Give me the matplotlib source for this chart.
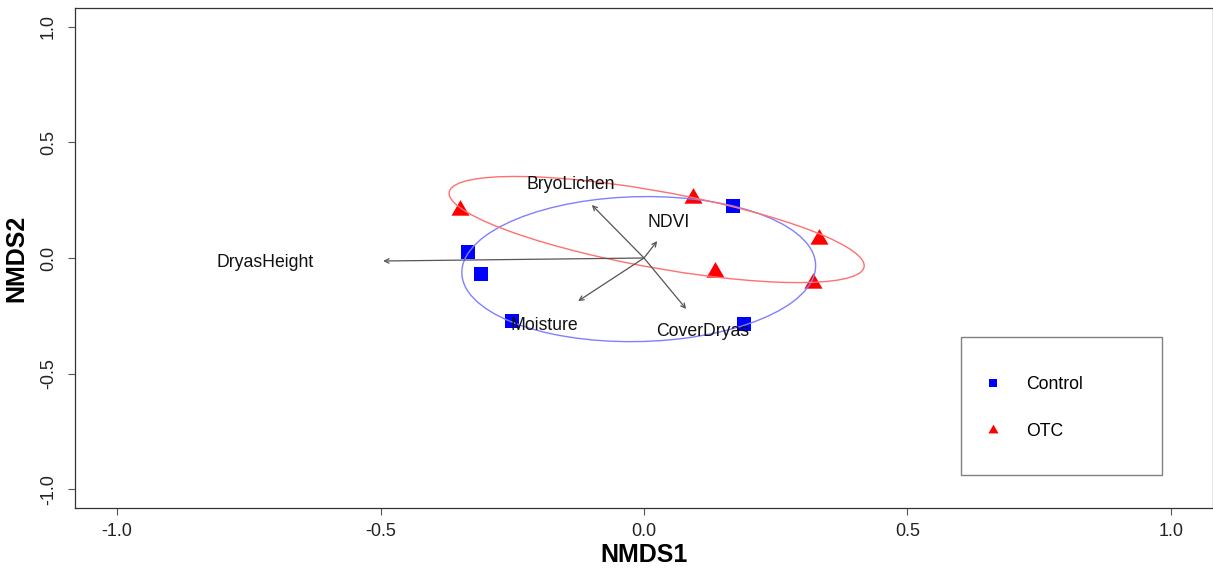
import matplotlib
matplotlib.use("Agg")
import matplotlib.pyplot as plt
from matplotlib.patches import Ellipse, Rectangle
from matplotlib.lines import Line2D

plt.rcParams['font.family'] = ['Liberation Sans', 'DejaVu Sans']

# site scores
control_x = [0.169, -0.334, -0.309, -0.250, 0.190]
control_y = [0.225, 0.026, -0.069, -0.272, -0.285]
otc_x = [-0.349, 0.093, 0.135, 0.332, 0.321]
otc_y = [0.207, 0.258, -0.062, 0.081, -0.109]

# envfit vectors and their label positions
vec_names = ['DryasHeight', 'BryoLichen', 'NDVI', 'Moisture', 'CoverDryas']
vec_x = [-0.495, -0.099, 0.025, -0.125, 0.080]
vec_y = [-0.013, 0.229, 0.073, -0.186, -0.220]
lab_x = [-0.719, -0.139, 0.047, -0.190, 0.111]
lab_y = [-0.019, 0.316, 0.154, -0.291, -0.317]

# ordiellipse: centre x, centre y, semi-axis a, semi-axis b, angle (deg)
ell_control = [-0.010, -0.048, 0.338, 0.311, 17]
ell_otc = [0.024, 0.123, 0.429, 0.154, -25.1]

tri = [(-1, -0.577), (1, -0.577), (0, 1.155)]
fs = 12.7

fig = plt.figure(figsize=(12.13, 5.70), dpi=100)
ax = fig.add_axes([75/1213, 62/570, 1138/1213, 500/570])

ax.plot(control_x, control_y, 's', color='#0000FF', ms=10, mew=0, zorder=2)
ax.plot(otc_x, otc_y, marker=tri, ls='none', color='#FF0000', ms=15, mew=0, zorder=2)

for e, c in [(ell_control, '#8080FF'), (ell_otc, '#FF7070')]:
    ax.add_patch(Ellipse((e[0], e[1]), 2*e[2], 2*e[3], angle=e[4],
                         fill=False, edgecolor=c, lw=1.0, zorder=3))

for vx, vy in zip(vec_x, vec_y):
    ax.annotate('', xy=(vx, vy), xytext=(0, 0),
                arrowprops=dict(arrowstyle='->', color='#555555', lw=0.9,
                                shrinkA=0, shrinkB=0, mutation_scale=8),
                zorder=4)
for name, lx, ly in zip(vec_names, lab_x, lab_y):
    ax.text(lx, ly, name, fontsize=fs, ha='center', va='center', color='#111111', zorder=5)

ax.set_xlim(-1.08, 1.08)
ax.set_ylim(-1.08, 1.08)
ticks = [-1.0, -0.5, 0.0, 0.5, 1.0]
ax.set_xticks(ticks)
ax.set_yticks(ticks)
ax.set_xticklabels([f'{t:.1f}' for t in ticks])
ax.set_yticklabels([f'{t:.1f}' for t in ticks], rotation=90, va='center')
ax.tick_params(length=5, width=0.8, color='#555555', labelsize=13, labelcolor='#222222', pad=6)
ax.tick_params(axis='y', pad=8)
for s in ax.spines.values():
    s.set_color('#333333')
    s.set_linewidth(0.9)

ax.set_xlabel('NMDS1', fontsize=18, fontweight='bold')
ax.set_ylabel('NMDS2', fontsize=18, fontweight='bold')
ax.xaxis.set_label_coords(0.5, -0.07)
ax.yaxis.set_label_coords(-0.041, 0.5)

# legend
ax.add_patch(Rectangle((0.7786, 0.066), 0.1766, 0.276, transform=ax.transAxes,
                       fill=False, edgecolor='#808080', lw=1.0, zorder=6))
handles = [Line2D([], [], marker='s', ls='none', color='#0000FF', ms=5.8, mew=0),
           Line2D([], [], marker=tri, ls='none', color='#FF0000', ms=8.4, mew=0)]
ax.legend(handles, ['Control', 'OTC'], loc='center left', bbox_to_anchor=(0.799, 0.200),
          frameon=False, borderpad=0, handlelength=1.0, handletextpad=1.375,
          labelspacing=1.71, fontsize=fs, borderaxespad=0)

fig.savefig('out.png', dpi=100)
